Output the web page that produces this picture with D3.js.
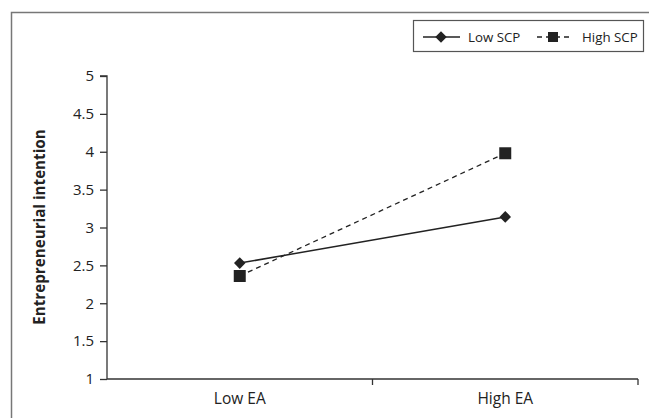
<!DOCTYPE html>
<html>
<head>
<meta charset="utf-8">
<script src="https://cdn.jsdelivr.net/npm/d3@7"></script>
<style>
  body { margin: 0; background: #fff; }
  text { font-family: "Open Sans", sans-serif; fill: #222; }
</style>
</head>
<body>
<svg id="chart" width="649" height="418"></svg>
<script>
const categories = ["Low EA", "High EA"];
const seriesNames = ["Low SCP", "High SCP"];
const lowScp = [2.53, 3.14];
const highScp = [2.36, 3.98];
const yTicks = [1, 1.5, 2, 2.5, 3, 3.5, 4, 4.5, 5];

const svg = d3.select("#chart");

// outer frame (right / bottom edges fall outside the picture)
svg.append("rect")
   .attr("x", 11.5).attr("y", 12.5)
   .attr("width", 660).attr("height", 420)
   .attr("fill", "none")
   .attr("stroke", "#777")
   .attr("stroke-width", 1.5);

const x = d3.scaleBand()
    .domain(categories)
    .range([107, 638]);

const y = d3.scaleLinear()
    .domain([1, 5])
    .range([379, 76]);

// y axis
const yAxis = svg.append("g")
    .attr("transform", "translate(107,0)")
    .call(d3.axisLeft(y).tickValues(yTicks).tickSize(7).tickPadding(6)
        .tickFormat(d => d));
yAxis.selectAll("path, line").attr("stroke", "#333").attr("stroke-width", 1.3);
yAxis.select(".domain").attr("d", `M-7,${y(5)}H0V${y(1)}`);
yAxis.selectAll("text").style("font-size", "15px").attr("fill", "#222");

// x axis, ticks between categories
const xAxisG = svg.append("g").attr("transform", `translate(0,${y(1)})`);
xAxisG.append("line")
      .attr("x1", x.range()[0]).attr("x2", x.range()[1])
      .attr("stroke", "#333").attr("stroke-width", 1.3);
const edges = [x.range()[0], ...categories.map(c => x(c) + x.bandwidth())];
xAxisG.selectAll(".xt")
      .data(edges.slice(1))
      .enter()
      .append("line")
      .attr("class", "xt")
      .attr("x1", d => d).attr("x2", d => d)
      .attr("y1", 0).attr("y2", 6)
      .attr("stroke", "#333").attr("stroke-width", 1.3);
xAxisG.selectAll(".xl")
      .data(categories)
      .enter()
      .append("text")
      .attr("class", "xl")
      .attr("x", d => x(d) + x.bandwidth() / 2)
      .attr("y", 25)
      .attr("text-anchor", "middle")
      .style("font-size", "15.5px")
      .text(d => d);

// y axis title
svg.append("text")
   .attr("transform", "translate(45,227) rotate(-90)")
   .attr("text-anchor", "middle")
   .style("font-size", "15.2px")
   .style("font-weight", "bold")
   .text("Entrepreneurial intention");

const cx = d => x(d) + x.bandwidth() / 2;
const line = d3.line().x((d, i) => cx(categories[i])).y(d => y(d));

svg.append("path")
   .datum(lowScp)
   .attr("d", line)
   .attr("fill", "none")
   .attr("stroke", "#222")
   .attr("stroke-width", 1.5);

svg.append("path")
   .datum(highScp)
   .attr("d", line)
   .attr("fill", "none")
   .attr("stroke", "#222")
   .attr("stroke-width", 1.3)
   .attr("stroke-dasharray", "5,4");

const diamond = d3.symbol().type(d3.symbolDiamond2).size(85);
const square = d3.symbol().type(d3.symbolSquare).size(144);

svg.selectAll(".lowpt")
   .data(lowScp)
   .enter()
   .append("path")
   .attr("class", "lowpt")
   .attr("transform", (d, i) => `translate(${cx(categories[i])},${y(d)})`)
   .attr("d", diamond)
   .attr("fill", "#222");

svg.selectAll(".highpt")
   .data(highScp)
   .enter()
   .append("path")
   .attr("class", "highpt")
   .attr("transform", (d, i) => `translate(${cx(categories[i])},${y(d)})`)
   .attr("d", square)
   .attr("fill", "#222");

// legend
const legend = svg.append("g");
legend.append("rect")
      .attr("x", 413.5).attr("y", 20.5)
      .attr("width", 230).attr("height", 31)
      .attr("fill", "#fff")
      .attr("stroke", "#555")
      .attr("stroke-width", 1.2);

legend.append("line")
      .attr("x1", 423).attr("x2", 460).attr("y1", 37).attr("y2", 37)
      .attr("stroke", "#222").attr("stroke-width", 1.5);
legend.append("path")
      .attr("transform", "translate(441,37)")
      .attr("d", diamond)
      .attr("fill", "#222");
legend.append("text")
      .attr("x", 468).attr("y", 42)
      .style("font-size", "13.3px")
      .text(seriesNames[0]);

legend.append("line")
      .attr("x1", 537).attr("x2", 570).attr("y1", 37).attr("y2", 37)
      .attr("stroke", "#222").attr("stroke-width", 1.5)
      .attr("stroke-dasharray", "5,4");
legend.append("path")
      .attr("transform", "translate(553,37)")
      .attr("d", d3.symbol().type(d3.symbolSquare).size(100))
      .attr("fill", "#222");
legend.append("text")
      .attr("x", 582).attr("y", 42)
      .style("font-size", "13.3px")
      .text(seriesNames[1]);
</script>
</body>
</html>
